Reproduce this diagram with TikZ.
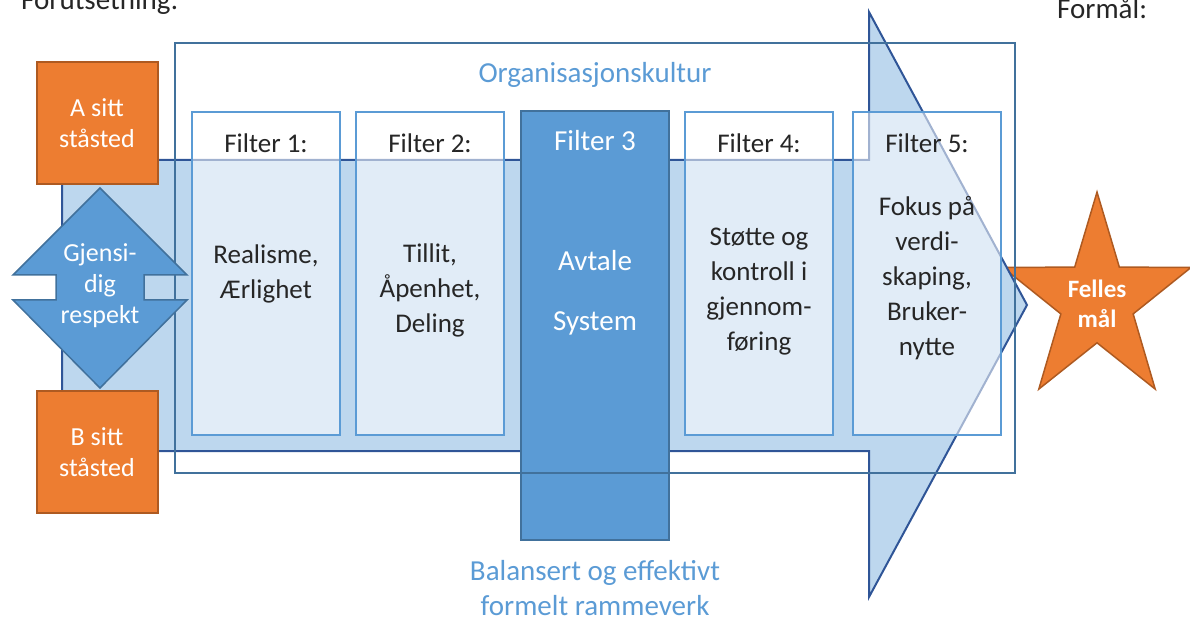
\documentclass[tikz,border=0pt]{standalone}
\usepackage{fontspec}
\setmainfont{Carlito}
\usetikzlibrary{positioning}

\definecolor{arrowfill}{HTML}{BDD7EE}
\definecolor{arrowline}{HTML}{2F5597}
\definecolor{frameline}{HTML}{41719C}
\definecolor{filterblue}{HTML}{5B9BD5}
\definecolor{orangefill}{HTML}{ED7D31}
\definecolor{orangeline}{HTML}{AE5A21}
\definecolor{textgrey}{HTML}{262626}

\begin{document}
\begin{tikzpicture}
  [x=1pt,y=-1pt,
   every node/.style={font=\fontsize{27}{35}\selectfont,text=textgrey,align=center,inner sep=0pt},
   bigtext/.style={font=\fontsize{29}{35}\selectfont},
   bluetext/.style={bigtext,text=filterblue},
   whitetext/.style={text=white},
   filterbox/.style={draw=filterblue,line width=2.5pt,fill=white,fill opacity=.55,
     minimum width=148pt,minimum height=323pt},
   mainbox/.style={draw=frameline,line width=2pt,fill=filterblue,
     minimum width=148pt,minimum height=429pt},
   culturebox/.style={draw=frameline,line width=2pt,minimum width=840pt,minimum height=430pt},
   standbox/.style={draw=orangeline,line width=2pt,fill=orangefill,text=white,
     font=\fontsize{26}{31}\selectfont,minimum width=121pt,minimum height=122pt},
   bigarrow/.style={draw=arrowline,line width=2pt,fill=arrowfill,line join=miter},
   dblarrow/.style={draw=frameline,line width=1.5pt,fill=filterblue},
   goalstar/.style={draw=orangeline,line width=1.5pt,fill=orangefill}]
  \clip (0,0) rectangle (1190,617);

  % goal star, behind the arrow
  \draw[goalstar,shift={(1097,301)},yscale=-1.1]
    (90:99) -- (126:38) -- (162:99) -- (198:38) -- (234:99) -- (270:38)
    -- (306:99) -- (342:38) -- (18:99) -- (54:38) -- cycle;

  % the big arrow
  \draw[bigarrow] (62,160) -- (869,160) -- (869,12) -- (1027,305)
    -- (869,597) -- (869,451) -- (62,451) -- cycle;

  \foreach \i/\x in {1/266,2/430,4/759,5/927}
  {
    \node[filterbox] (f\i) at (\x,273.5) {};
    \node (head\i) at (\x,143) {Filter \i:};
  }
  \node[mainbox] (f3) at (595,325.5) {};
  \node[bigtext,whitetext] (head3) at (595,141) {Filter 3};

  \node[culturebox] (kultur) at (595,258) {};
  \node[bluetext] (kulturtxt) at (595,75) {Organisasjonskultur};

  \node (body1) at (266,273.5) {Realisme,\\Ærlighet};
  \node (body2) at (430,290) {Tillit,\\Åpenhet,\\Deling};
  \node[bigtext,whitetext] (body3) at (595,293) {Avtale\\[25pt]System};
  \node (body4) at (759,291.5) {Støtte og\\kontroll i\\gjennom-\\føring};
  \node (body5) at (927,278.5) {Fokus på\\verdi-\\skaping,\\Bruker-\\nytte};

  % mutual respect
  \draw[dblarrow] (100,188) -- (187,275) -- (144,275) -- (144,300) -- (187,300)
    -- (100,388) -- (13,300) -- (56,300) -- (56,275) -- (13,275) -- cycle;
  \node[whitetext,font=\fontsize{26}{31}\selectfont] (respekt) at (100,286) {Gjensi-\\dig\\respekt};

  \node[standbox] (asted) at (97,123) {A sitt\\ståsted};
  \node[standbox] (bsted) at (97,452) {B sitt\\ståsted};

  \node[whitetext,font=\fontsize{25}{30}\selectfont\bfseries] (felles) at (1097,304) {Felles\\mål};

  \node[bluetext] (ramme) at (595,588) {Balansert og effektivt\\formelt rammeverk};

  \node[bigtext,anchor=base west] (forut) at (21,10) {Forutsetning:};
  \node[bigtext,anchor=base west] (formal) at (1057,18.5) {Formål:};
\end{tikzpicture}
\end{document}
